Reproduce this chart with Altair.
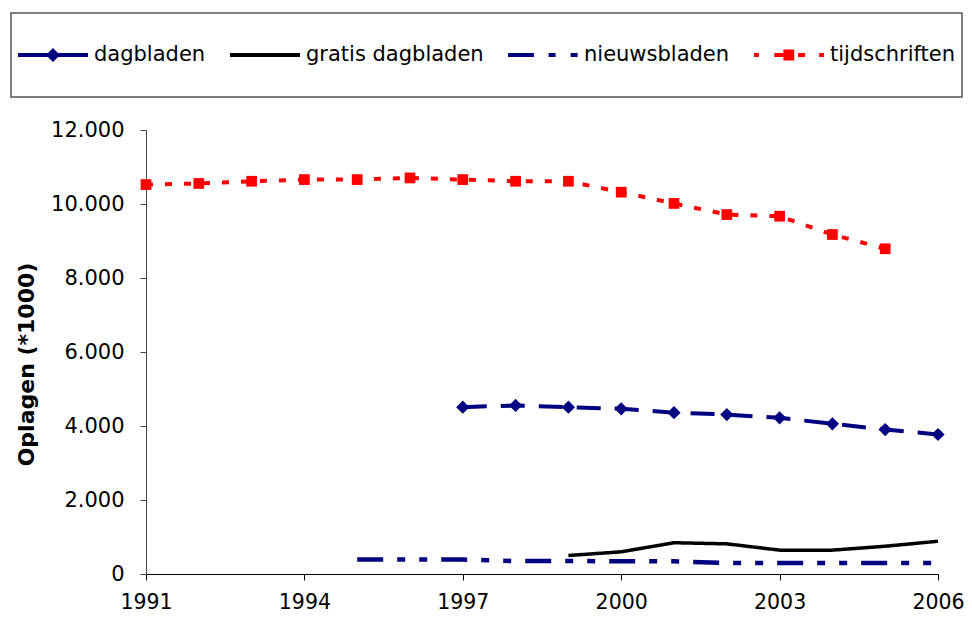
import altair as alt
import pandas as pd

series_names = ["dagbladen", "gratis dagbladen", "nieuwsbladen", "tijdschriften"]

dag_years = [1997, 1998, 1999, 2000, 2001, 2002, 2003, 2004, 2005, 2006]
dag_values = [4510, 4555, 4510, 4465, 4360, 4310, 4220, 4060, 3905, 3770]

gratis_years = [1999, 2000, 2001, 2002, 2003, 2004, 2005, 2006]
gratis_values = [500, 600, 845, 815, 645, 645, 750, 885]

nieuws_years = [1995, 1996, 1997, 1998, 1999, 2000, 2001, 2002, 2003, 2004, 2005, 2006]
nieuws_values = [395, 395, 390, 350, 350, 345, 345, 295, 295, 295, 295, 295]

tijd_years = [1991, 1992, 1993, 1994, 1995, 1996, 1997, 1998, 1999, 2000, 2001, 2002, 2003, 2004, 2005]
tijd_values = [10525, 10555, 10615, 10660, 10660, 10705, 10660, 10615, 10615, 10320, 10015, 9715, 9670, 9175, 8790]

x_ticks = [1991, 1994, 1997, 2000, 2003, 2006]
y_ticks = [0, 2000, 4000, 6000, 8000, 10000, 12000]

rows = []
for name, ys, vs in [
    ("dagbladen", dag_years, dag_values),
    ("gratis dagbladen", gratis_years, gratis_values),
    ("nieuwsbladen", nieuws_years, nieuws_values),
    ("tijdschriften", tijd_years, tijd_values),
]:
    for y, v in zip(ys, vs):
        rows.append({"year": y, "value": v, "series": name})
df = pd.DataFrame(rows)

FONT = "DejaVu Sans"
NAVY = "#000080"
RED = "#FF0000"

# legend symbols (custom paths, unit = half symbol width)
legend_paths = [
    "M-1,-0.055H1V0.055H-1Z M0,-0.2L0.2,0L0,0.2L-0.2,0Z M0,-1 M0,1",
    "M-1,-0.06H1V0.06H-1Z M0,-1 M0,1",
    "M-1,-0.06H-0.26V0.06H-1Z M0.16,-0.06H0.36V0.06H0.16Z M0.79,-0.06H0.99V0.06H0.79Z M0,-1 M0,1",
    "M-1,-0.055H-0.86V0.055H-1Z M-0.42,-0.055H-0.16V0.055H-0.42Z M-0.16,-0.16H0.15V0.16H-0.16Z M0.26,-0.055H0.46V0.055H0.26Z M0.86,-0.055H1V0.055H0.86Z M0,-1 M0,1",
]

legend = alt.Legend(
    title=None,
    orient="none",
    legendX=-135,
    legendY=-117,
    direction="horizontal",
    symbolSize=4900,
    symbolStrokeWidth=0,
    symbolOpacity=1,
    labelFont=FONT,
    labelFontSize=21,
    labelColor="#000000",
    labelOffset=6,
    labelLimit=400,
    columnPadding=24,
    padding=7,
    strokeColor="#555555",
)

x_axis = alt.Axis(
    values=x_ticks,
    format="d",
    title=None,
    grid=False,
    tickSize=6,
    labelPadding=12,
    labelFont=FONT,
    labelFontSize=20.5,
    labelColor="#000000",
    domainColor="#000000",
    tickColor="#000000",
    labelFlush=False,
)
y_axis = alt.Axis(
    values=y_ticks,
    labelExpr="replace(format(datum.value, ',d'), ',', '.')",
    title="Oplagen (*1000)",
    titleFont=FONT,
    titleFontSize=22,
    titleFontWeight="bold",
    titleColor="#000000",
    titlePadding=12,
    titleY=234,
    grid=False,
    tickSize=6,
    labelPadding=16,
    labelFont=FONT,
    labelFontSize=21,
    labelColor="#000000",
    domainColor="#444444",
    tickColor="#444444",
)
x_scale = alt.Scale(domain=[1991, 2006], nice=False, zero=False)
y_scale = alt.Scale(domain=[0, 12000], nice=False)

base = alt.Chart(df).encode(
    x=alt.X("year:Q", scale=x_scale, axis=x_axis),
    y=alt.Y("value:Q", scale=y_scale, axis=y_axis),
)


def line_layer(name, color, dash, width):
    return base.transform_filter(alt.datum.series == name).mark_line(
        color=color, strokeDash=dash, strokeWidth=width, strokeCap="butt", strokeJoin="round"
    )


l_dag = line_layer("dagbladen", NAVY, [24, 14], 4)
l_gratis = line_layer("gratis dagbladen", "#000000", [1, 0], 3.5)
l_nieuws = line_layer("nieuwsbladen", NAVY, [26, 14, 8, 14, 8, 14], 4.5)
l_tijd = line_layer("tijdschriften", RED, [7, 12], 4)

dag_points = base.transform_filter(alt.datum.series == "dagbladen").mark_point(
    shape="diamond", size=175, filled=True, color=NAVY, opacity=1
)
tijd_points = base.transform_filter(alt.datum.series == "tijdschriften").mark_point(
    shape="square", size=115, filled=True, color=RED, opacity=1
)

legend_layer = base.mark_point(filled=True, opacity=0).encode(
    color=alt.Color(
        "series:N",
        scale=alt.Scale(domain=series_names, range=[NAVY, "#000000", NAVY, RED]),
        legend=legend,
    ),
    shape=alt.Shape("series:N", scale=alt.Scale(domain=series_names, range=legend_paths), legend=legend),
)

chart = (
    alt.layer(l_gratis, l_nieuws, l_dag, l_tijd, dag_points, tijd_points, legend_layer)
    .properties(
        width=792,
        height=444,
        autosize=alt.AutoSizeParams(type="none"),
        padding={"left": 138, "top": 122, "right": 26, "bottom": 38},
        background="#ffffff",
    )
    .configure_view(stroke=None)
    .configure_legend(strokeWidth=1.5)
)

chart.save("out.html", embed_options={"renderer": "svg", "actions": False})
